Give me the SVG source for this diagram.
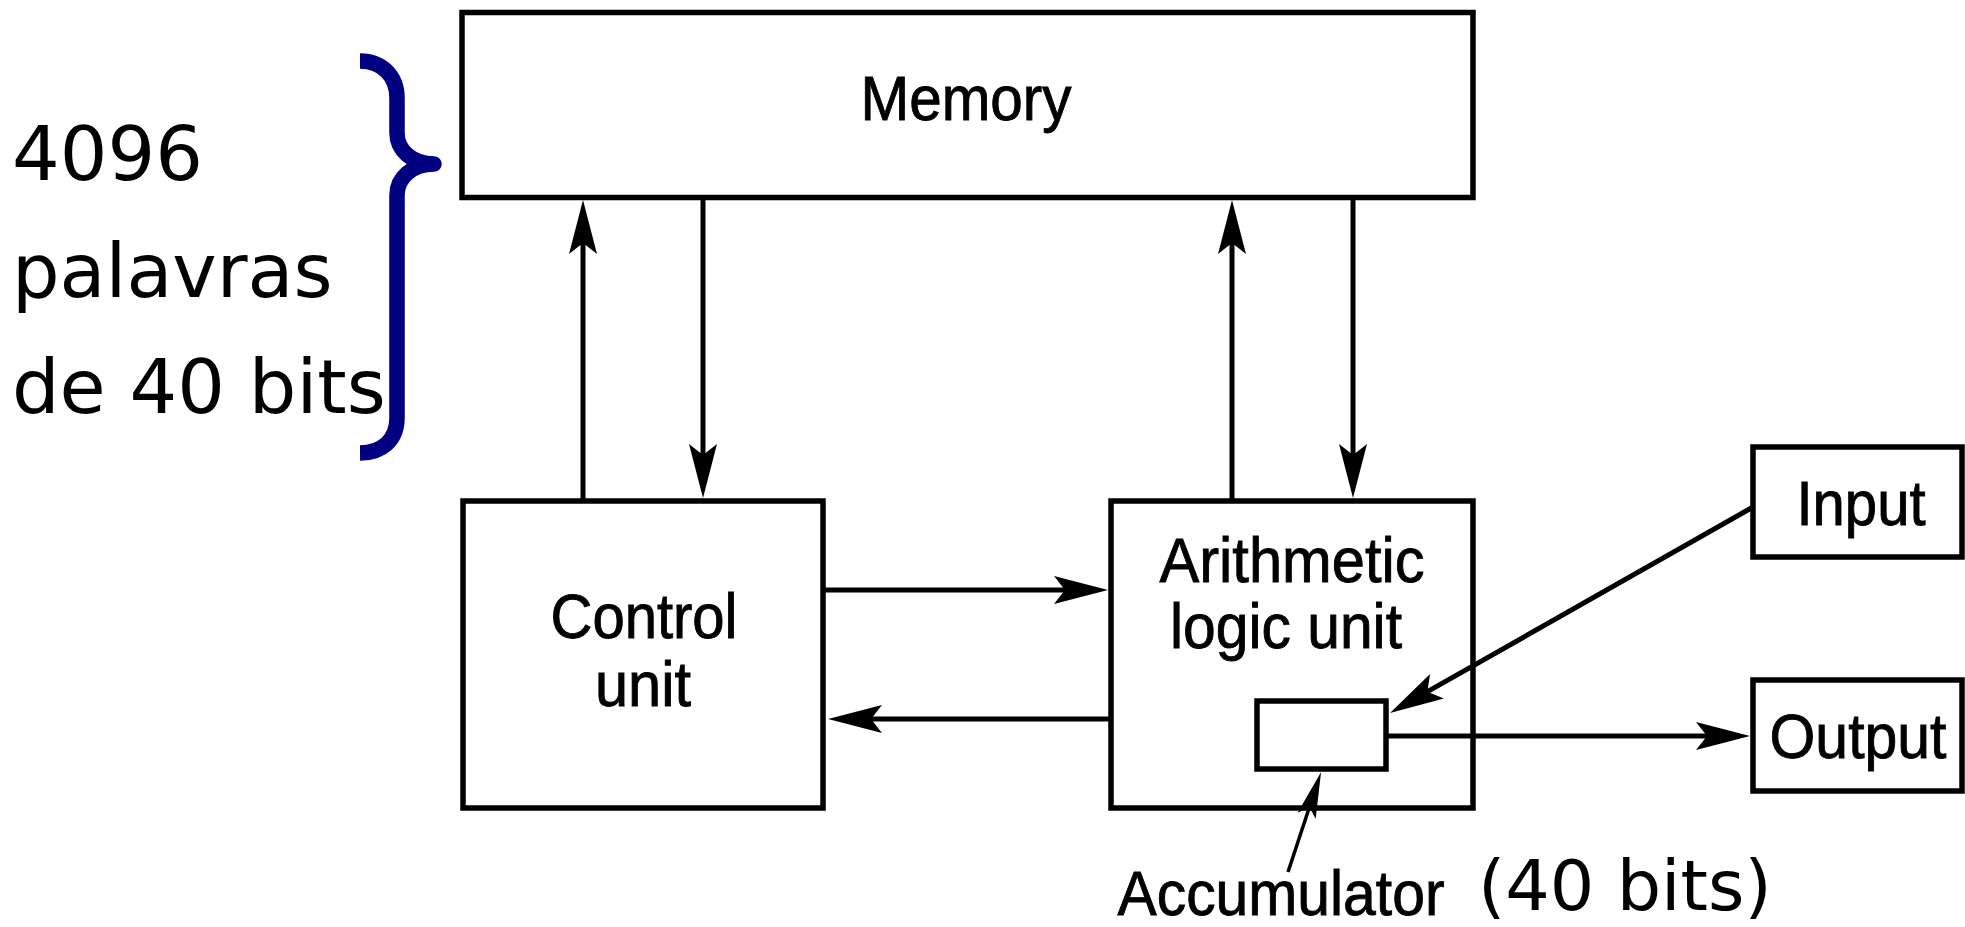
<svg xmlns="http://www.w3.org/2000/svg" width="1965" height="927" viewBox="0 0 1965 927">
  <style>
    .box { fill: #ffffff; stroke: #000000; stroke-width: 5.5; }
    .lbl { font-family: "Liberation Sans", Arial, sans-serif; font-size: 63px; fill: #000000; stroke: #000000; stroke-width: 0.9; text-anchor: middle; }
    .note { font-family: "DejaVu Sans", sans-serif; fill: #000000; }
    .conn { fill: none; stroke: #000000; stroke-width: 5; }
    .thin { fill: none; stroke: #000000; stroke-width: 3.5; }
  </style>
  <defs>
    <marker id="arrow" markerUnits="userSpaceOnUse" viewBox="-56 -15 60 30" markerWidth="60" markerHeight="30" refX="-40" refY="0" orient="auto">
      <path d="M0,0 L-54,-14 L-43,0 L-54,14 Z" fill="#000000"/>
    </marker>
    <marker id="arrowSmall" markerUnits="userSpaceOnUse" viewBox="-50 -11 54 22" markerWidth="54" markerHeight="22" refX="-34" refY="0" orient="auto">
      <path d="M0,0 L-46,-9.5 L-37,0 L-46,9.5 Z" fill="#000000"/>
    </marker>
  </defs>

  <g id="memory">
    <rect class="box" x="462" y="12.5" width="1011" height="185"/>
    <text class="lbl" x="966" y="120" font-size="65" textLength="211" lengthAdjust="spacingAndGlyphs">Memory</text>
  </g>

  <g id="control-unit">
    <rect class="box" x="463" y="501" width="360" height="307"/>
    <text class="lbl" x="644" y="638" textLength="187" lengthAdjust="spacingAndGlyphs">Control</text>
    <text class="lbl" x="643" y="706" textLength="96" lengthAdjust="spacingAndGlyphs">unit</text>
  </g>

  <g id="alu">
    <rect class="box" x="1111" y="501" width="362" height="307"/>
    <text class="lbl" x="1292" y="582" textLength="265" lengthAdjust="spacingAndGlyphs">Arithmetic</text>
    <text class="lbl" x="1286" y="648" textLength="232" lengthAdjust="spacingAndGlyphs">logic unit</text>
  </g>

  <g id="accumulator">
    <rect class="box" x="1257" y="701" width="129" height="68"/>
    <text class="lbl" x="1281" y="915" textLength="327" lengthAdjust="spacingAndGlyphs">Accumulator</text>
  </g>

  <g id="input">
    <rect class="box" x="1753" y="447" width="209" height="110"/>
    <text class="lbl" x="1861" y="525" textLength="129" lengthAdjust="spacingAndGlyphs">Input</text>
  </g>

  <g id="output">
    <rect class="box" x="1753" y="680" width="209" height="111"/>
    <text class="lbl" x="1858" y="758" textLength="177" lengthAdjust="spacingAndGlyphs">Output</text>
  </g>

  <g id="memory-size-note">
    <path d="M360,61 C382,61 397,76 397,98 L397,133 C397,150 412,164 434,164 C412,164 397,178 397,195 L397,418 C397,440 382,453 360,453" fill="none" stroke="#000080" stroke-width="15.5" stroke-linejoin="round"/>
    <text class="note" x="12" y="180" font-size="75">4096</text>
    <text class="note" x="12" y="297" font-size="75">palavras</text>
    <text class="note" x="12" y="413" font-size="75">de 40 bits</text>
  </g>

  <g id="accumulator-size-note">
    <text class="note" x="1478" y="910" font-size="70">(40 bits)</text>
  </g>

  <g id="connectors">
    <line class="conn" x1="583" y1="501" x2="583" y2="240" marker-end="url(#arrow)"/>
    <line class="conn" x1="703" y1="198" x2="703" y2="458" marker-end="url(#arrow)"/>
    <line class="conn" x1="1232" y1="501" x2="1232" y2="240" marker-end="url(#arrow)"/>
    <line class="conn" x1="1353" y1="198" x2="1353" y2="458" marker-end="url(#arrow)"/>
    <line class="conn" x1="823" y1="590" x2="1068" y2="590" marker-end="url(#arrow)"/>
    <line class="conn" x1="1111" y1="719" x2="868" y2="719" marker-end="url(#arrow)"/>
    <line class="conn" x1="1753" y1="507" x2="1424.8" y2="693.2" stroke-width="6" marker-end="url(#arrow)"/>
    <line class="conn" x1="1386" y1="736" x2="1710" y2="736" marker-end="url(#arrow)"/>
    <line class="thin" x1="1288" y1="872" x2="1310.4" y2="804.3" marker-end="url(#arrowSmall)"/>
  </g>
</svg>
